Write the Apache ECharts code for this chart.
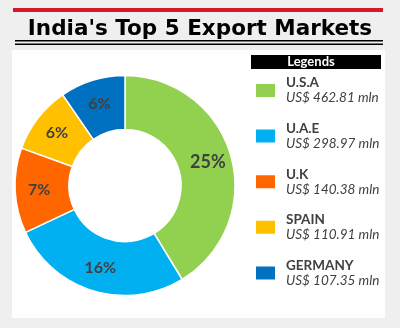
<!DOCTYPE html>
<html><head><meta charset="utf-8">
<script src="https://cdn.jsdelivr.net/npm/echarts@6/dist/echarts.min.js"></script>
<style>html,body{margin:0;padding:0;background:#efefef;}#c{width:400px;height:328px;}</style>
</head><body><div id="c"></div>
<script>
const titleText = "India's Top 5 Export Markets";
const countries = ['U.S.A', 'U.A.E', 'U.K', 'SPAIN', 'GERMANY'];
const values = [462.81, 298.97, 140.38, 110.91, 107.35];
const shareLabels = ['25%', '16%', '7%', '6%', '6%'];
const colors = ['#92d050', '#00b0f0', '#ff6600', '#ffc000', '#0070c0'];

const chart = echarts.init(document.getElementById('c'), null, {renderer: 'canvas'});
const data = countries.map((c, i) => ({
  name: c, value: values[i],
  itemStyle: {color: colors[i]},
  label: {fontSize: i === 0 ? 18 : 16}
}));
chart.setOption({
  backgroundColor: '#efefef',
  animation: false,
  title: {
    text: titleText, left: 'center', top: 13,
    textStyle: {fontFamily: 'DejaVu Sans', fontWeight: 'bold', fontSize: 21.5, color: '#000'}
  },
  graphic: [
    {type: 'rect', shape: {x: 13, y: 8, width: 370, height: 4}, style: {fill: '#d7182a'}},
    {type: 'rect', shape: {x: 15, y: 40, width: 368, height: 1.5}, style: {fill: '#000'}},
    {type: 'rect', shape: {x: 15, y: 43.5, width: 368, height: 1.5}, style: {fill: '#000'}},
    {type: 'rect', z: -10, shape: {x: 12, y: 50, width: 373, height: 268}, style: {fill: '#fff'}},
    {type: 'rect', shape: {x: 251, y: 55, width: 130, height: 14}, style: {fill: '#000'}},
    {type: 'text', x: 311, y: 62, style: {text: 'Legends', fill: '#fff', font: 'bold 13px Lato', align: 'center', verticalAlign: 'middle'}}
  ],
  legend: {
    orient: 'vertical', left: 249, top: 71,
    itemWidth: 21, itemHeight: 15, itemGap: 16.6,
    icon: 'rect', selectedMode: false,
    data: countries,
    formatter: function (name) {
      const i = countries.indexOf(name);
      return '{n|' + name + '}\n{v|US$ ' + values[i].toFixed(2) + ' mln}';
    },
    textStyle: {
      padding: [0, 0, 0, 5],
      rich: {
        n: {fontFamily: 'Lato', fontWeight: 'bold', fontSize: 13.5, lineHeight: 15, color: '#404040'},
        v: {fontFamily: 'Lato', fontStyle: 'italic', fontSize: 13.5, lineHeight: 15, color: '#404040'}
      }
    }
  },
  series: [{
    type: 'pie',
    center: [125, 185.5],
    radius: [56, 110],
    startAngle: 90,
    clockwise: true,
    avoidLabelOverlap: false,
    itemStyle: {borderColor: '#fff', borderWidth: 1.5},
    label: {
      position: 'inside',
      formatter: p => shareLabels[p.dataIndex],
      fontFamily: 'Lato', fontWeight: 'bold', color: '#404040'
    },
    labelLine: {show: false},
    emphasis: {disabled: true},
    data: data
  }]
});
</script></body></html>
